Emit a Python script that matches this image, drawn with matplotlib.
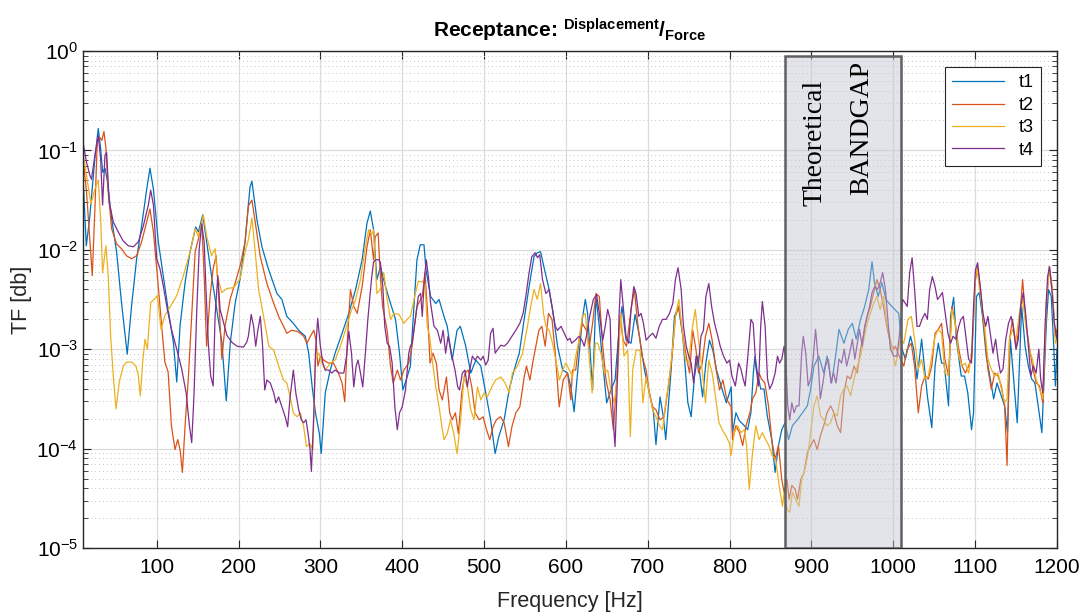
import numpy as np
import matplotlib
matplotlib.use('Agg')
import matplotlib.pyplot as plt
from matplotlib.patches import Rectangle
from matplotlib.ticker import LogLocator, NullFormatter

# values: frequency [Hz] and log10(TF)
t1_f = [10, 14, 18, 24.5, 28.6, 31.5, 34, 36.8, 39.6, 45, 51, 57, 64, 69.4, 75.5, 81.6, 87.8, 91.8, 96, 102,
        108, 114, 120.4, 124.5, 128.6, 134.7, 140.8, 147.7, 151, 156.3, 161, 167, 173.4, 179.6, 185, 190, 196, 202, 208, 214,
        216.4, 222.5, 228.6, 236.8, 247, 253, 259, 267, 273.5, 281.6, 285.7, 290, 294, 298.8, 301, 306, 312, 318, 326.5, 334.7,
        343, 351, 357, 361, 365, 369, 373.4, 379.6, 385.7, 391.8, 396.7, 400.8, 406, 410, 412, 418, 422, 426.6, 429, 434.7,
        441, 445, 451, 455, 461, 467, 471, 477.6, 483.7, 490, 496, 502, 508, 513.5, 518, 524.5, 530.6, 536.7, 543, 549,
        555, 561, 565, 569, 574.7, 578.7, 583.6, 589.8, 596, 602, 606, 610, 616, 620, 623.7, 626.5, 632.6, 636.7, 640.8, 645,
        649.8, 655, 660, 665, 668.5, 673.4, 679.6, 684.5, 689.8, 696, 702, 707, 710, 715, 719, 722, 728.5, 732.6, 737.5, 742.8,
        749, 753, 757, 761, 767, 771, 775.4, 779.5, 784, 790, 796, 802, 803.6, 807.7, 812, 818, 822, 826, 829, 831,
        834, 838, 842, 846, 851.5, 855.6, 859.7, 863.7, 867.8, 872, 876.7, 882.8, 889, 895, 899, 903, 909, 915, 919, 924.6,
        929.5, 933.6, 939.7, 945, 950, 954.7, 960, 965, 970, 974, 977, 981.5, 986, 991, 996, 1000.6, 1006.6, 1010.7, 1014.8, 1021,
        1025, 1029, 1034.6, 1038.7, 1041.6, 1047, 1051, 1055, 1059, 1062, 1067.5, 1070, 1073.7, 1077, 1083, 1087, 1091, 1095.6, 1098, 1101.6,
        1105, 1109, 1113.6, 1118.5, 1122.6, 1126.7, 1132, 1136, 1139.5, 1143, 1147, 1151.4, 1156.8, 1161, 1165, 1169, 1173, 1177, 1181.5, 1187,
        1189.7, 1193, 1196, 1198, 1200]
t1_e = [-1.27, -1.96, -1.69, -1.08, -0.78, -0.98, -1.22, -1.18, -1.30, -1.69, -2.02, -2.53, -3.05, -2.56, -2.09, -1.76, -1.39, -1.18, -1.39, -1.92,
        -2.26, -2.60, -2.93, -3.33, -2.76, -2.33, -2.02, -1.77, -1.82, -1.65, -1.92, -2.26, -2.60, -2.93, -3.52, -2.93, -2.53, -2.29, -1.92, -1.37,
        -1.31, -1.70, -1.97, -2.20, -2.44, -2.50, -2.67, -2.74, -2.81, -2.87, -3.04, -3.38, -3.64, -3.85, -4.05, -3.44, -3.21, -3.04, -2.84, -2.64,
        -2.40, -2.10, -1.73, -1.61, -1.80, -2.30, -2.17, -2.37, -2.54, -2.70, -3.04, -3.41, -3.28, -3.17, -2.87, -2.10, -1.95, -1.95, -2.20, -2.47,
        -2.54, -2.50, -2.67, -2.77, -3.11, -2.81, -2.77, -2.97, -3.24, -3.11, -3.17, -3.44, -3.71, -4.05, -3.88, -3.71, -3.41, -3.21, -3.04, -2.70,
        -2.37, -2.07, -2.03, -2.02, -2.23, -2.37, -2.60, -2.97, -3.21, -3.24, -3.38, -3.63, -3.07, -2.70, -2.50, -2.64, -3.41, -2.47, -2.77, -3.14,
        -3.54, -3.41, -3.31, -2.80, -2.57, -2.91, -2.94, -2.65, -2.87, -3.21, -3.44, -3.64, -3.96, -3.48, -3.68, -3.91, -3.21, -2.67, -2.57, -2.87,
        -3.54, -3.68, -3.28, -3.07, -3.48, -3.14, -2.91, -3.01, -3.21, -3.38, -3.54, -3.38, -3.84, -3.64, -3.72, -3.77, -3.81, -3.64, -3.24, -3.07,
        -3.24, -3.40, -3.40, -3.67, -3.91, -4.24, -3.97, -3.81, -3.74, -3.91, -3.77, -3.71, -3.64, -3.57, -3.40, -3.17, -3.07, -3.24, -3.07, -3.34,
        -3.07, -2.80, -2.94, -2.80, -2.74, -2.90, -2.70, -2.57, -2.40, -2.12, -2.33, -2.47, -2.33, -2.50, -2.55, -2.59, -2.64, -3.00, -3.10, -2.87,
        -3.00, -3.30, -2.90, -3.24, -3.47, -3.79, -3.17, -2.94, -3.14, -3.14, -3.57, -2.67, -2.48, -2.90, -3.27, -3.27, -3.44, -3.81, -3.64, -2.47,
        -2.43, -2.67, -3.07, -3.30, -3.50, -3.34, -3.47, -3.57, -3.84, -2.90, -3.30, -3.74, -2.57, -2.97, -3.17, -3.30, -3.34, -3.57, -3.84, -2.74,
        -2.40, -2.47, -2.97, -3.37, -3.00]

t2_f = [10, 14.3, 18.4, 21.3, 24.5, 27.4, 30.6, 33, 35.6, 38, 40.8, 45, 51, 57, 63, 69.4, 75.5, 81.6, 87.8, 91.8,
        96, 100.8, 106, 110, 114, 118, 122.4, 125.7, 128.6, 131.4, 134.7, 138.8, 142.8, 147, 151, 155, 158, 161, 165.3, 169,
        172.6, 175.5, 179.6, 183.6, 190, 196, 202, 208, 212, 216.4, 220.5, 226.6, 234.7, 243, 249, 255, 259, 265, 271.4, 275.5,
        279.6, 283.7, 287.8, 292, 294.7, 297, 300, 304, 310, 316, 322, 326.5, 329.8, 332.6, 336.7, 340.8, 345, 351, 357, 361,
        365, 367, 370.6, 373, 376, 381.6, 385.7, 389, 394, 398, 402, 408, 412, 418, 424.5, 427.8, 431, 434, 437.6, 441.7,
        445, 449, 454, 458, 461, 465, 468.6, 472.7, 476.7, 480.8, 485, 489, 494, 498.8, 503, 507, 511, 515, 520, 524.5,
        529.8, 534, 538.8, 543.7, 549, 551.8, 556, 560, 564, 567, 570.6, 574.7, 578.7, 583, 587, 591.8, 596.7, 602, 606, 608,
        612, 616, 620, 625, 628.6, 632.6, 636.7, 640.8, 645, 649, 654, 658, 662, 666, 670, 674, 679.6, 683.6, 687.7, 693,
        698, 702, 706, 710, 715, 720, 725.7, 729.7, 733.8, 738, 742, 747, 751, 755, 759, 762, 766.5, 770.5, 774.6, 778.7,
        783.6, 787.7, 791.8, 796.7, 802, 803.6, 807.7, 812, 816, 820, 824.8, 828, 832, 836, 839, 843, 847.5, 851.5, 855.6, 859.7,
        863.7, 866.6, 870, 872.7, 876, 880, 883, 887, 891, 895, 899, 903, 907, 911, 915, 919, 923.4, 927.5, 931.5, 935.6,
        939.7, 943.7, 947.8, 952, 956, 960, 964, 968, 972, 976, 980, 984, 988, 992, 996.5, 1000.6, 1002.5, 1008.6, 1012.8, 1016.9,
        1022, 1026, 1030.5, 1034.6, 1038.7, 1042.8, 1047, 1051, 1055, 1059, 1063, 1067.5, 1071.6, 1075.7, 1080, 1084, 1088, 1092, 1096, 1100.4,
        1103, 1106.6, 1111.5, 1115.6, 1119.7, 1124, 1128, 1132, 1136, 1139, 1142, 1145.7, 1150, 1154, 1158, 1162, 1166, 1170, 1174.5, 1178.6,
        1182.7, 1187, 1190.5, 1194, 1198, 1200]
t2_e = [-1.08, -1.42, -1.92, -2.26, -1.59, -0.92, -0.87, -0.90, -0.81, -0.98, -1.42, -1.79, -1.94, -1.99, -2.06, -2.09, -2.06, -1.92, -1.72, -1.59,
        -1.82, -2.26, -2.76, -3.13, -3.23, -3.77, -4.01, -3.91, -4.01, -4.24, -3.77, -3.27, -2.66, -2.02, -1.89, -1.72, -2.26, -2.97, -2.46, -2.19,
        -2.06, -2.43, -3.10, -2.76, -2.49, -2.33, -2.16, -1.92, -1.56, -1.50, -1.73, -2.07, -2.34, -2.54, -2.67, -2.77, -2.84, -2.81, -2.82, -2.84,
        -2.87, -2.94, -2.87, -2.81, -2.91, -3.17, -3.07, -3.11, -3.14, -3.14, -3.24, -3.34, -3.53, -2.97, -2.40, -2.57, -2.64, -2.37, -1.97, -1.80,
        -2.10, -1.87, -1.83, -2.23, -2.57, -2.81, -3.17, -3.34, -3.21, -3.31, -3.21, -3.14, -2.97, -2.57, -2.47, -2.23, -2.64, -3.14, -3.04, -3.14,
        -3.41, -3.51, -3.28, -3.64, -3.71, -3.64, -3.85, -3.44, -3.24, -3.21, -3.38, -3.64, -3.71, -3.68, -3.81, -3.91, -3.78, -3.71, -3.68, -3.74,
        -3.98, -3.78, -3.64, -3.58, -3.28, -3.17, -3.31, -3.11, -2.94, -2.81, -2.77, -2.97, -2.64, -2.70, -3.04, -3.58, -3.31, -3.24, -3.51, -3.21,
        -3.21, -2.91, -2.74, -2.81, -2.97, -2.74, -2.44, -2.47, -2.97, -3.31, -3.51, -3.81, -3.31, -2.67, -2.91, -2.97, -2.60, -2.40, -2.74, -3.07,
        -3.21, -3.44, -3.58, -3.61, -3.71, -3.68, -3.34, -3.07, -2.67, -2.57, -2.81, -3.07, -3.24, -2.81, -3.01, -3.24, -3.14, -2.87, -2.74, -2.91,
        -3.21, -3.41, -3.31, -3.51, -3.58, -3.91, -3.77, -3.84, -3.97, -3.77, -3.64, -3.50, -3.44, -3.24, -3.30, -3.34, -3.57, -3.91, -4.11, -3.97,
        -4.31, -4.44, -4.31, -4.51, -4.37, -4.41, -4.51, -4.31, -4.24, -4.04, -3.97, -3.91, -4.01, -3.87, -3.77, -3.64, -3.57, -3.64, -3.77, -3.84,
        -3.44, -3.27, -3.30, -3.17, -3.24, -3.00, -2.84, -2.67, -2.57, -2.43, -2.30, -2.40, -2.57, -2.77, -2.94, -3.00, -2.97, -3.10, -3.17, -3.00,
        -2.94, -3.17, -3.64, -3.37, -3.27, -3.30, -3.17, -2.84, -2.80, -2.74, -3.10, -3.27, -2.57, -2.74, -3.00, -3.17, -3.24, -3.17, -3.07, -2.30,
        -2.17, -2.40, -2.84, -3.20, -3.40, -3.24, -3.27, -3.37, -3.57, -4.17, -2.90, -2.70, -3.00, -2.74, -2.30, -2.74, -2.97, -3.17, -3.34, -3.37,
        -3.54, -2.57, -2.17, -2.37, -2.87, -2.80]

t3_f = [10, 14.3, 19.6, 24.5, 28.6, 31.5, 33.9, 38, 40.8, 43.7, 47, 50.3, 54.3, 59.2, 63.3, 69.4, 74.7, 77.6, 80, 82.9,
        85.7, 88.6, 92.7, 98, 100.8, 105.3, 110, 116, 124.5, 132.6, 140.8, 147, 151, 157, 161, 167, 171.4, 174, 179.6, 185.7,
        194, 202, 208, 212, 216.4, 220.5, 224.5, 230.6, 237, 243, 249, 255, 259, 263, 267, 271.4, 275.5, 279.6, 283, 287,
        291, 294, 298, 302, 306, 312, 318, 324.5, 330.6, 336.7, 343, 349, 355, 359, 362.4, 365, 369, 373, 377.5, 381.6,
        385.7, 389.8, 396, 402, 406, 410, 416, 419.6, 423.7, 427.8, 430.6, 433.5, 437.6, 441, 445, 449, 451, 455, 459, 463,
        467, 471.4, 475.5, 479.6, 483.7, 487.8, 492, 496, 500, 504, 509.4, 514, 520.4, 525.7, 530.6, 534.7, 540.8, 547, 553, 557,
        561, 565, 569, 572.6, 575.5, 579.6, 583.6, 587.7, 592, 596, 600, 606, 608, 612, 616, 620, 623.7, 627.7, 632, 636,
        638.8, 642.8, 647, 651, 655, 659, 663, 667, 671, 675.5, 678.7, 681.6, 685.7, 690.6, 694, 698, 702, 706, 710, 715,
        718, 722, 726.5, 730.6, 733.8, 738, 742, 746, 750, 754, 758, 762, 766.5, 770.5, 774.6, 778.7, 782.8, 787, 791, 796,
        800, 801.6, 805.7, 809.7, 813.8, 818, 820.7, 824, 828, 832, 836, 840, 844, 848, 852, 856.4, 860.5, 864.6, 866.6, 870,
        873.5, 876.7, 880.8, 884.8, 888, 892, 896, 900, 903, 907, 911, 915, 919, 923.4, 927.5, 931.5, 935.6, 939.7, 943.7, 947.8,
        952, 956, 960, 964, 968, 972, 976, 980, 984, 988, 992, 996.5, 1000.6, 1002.5, 1008.6, 1012.8, 1018, 1022, 1026, 1030.5,
        1034.6, 1038.7, 1042.8, 1047, 1051, 1055, 1059, 1063, 1067.5, 1071.6, 1075.7, 1080, 1084, 1088, 1092, 1096, 1100.4, 1102.5, 1106.6, 1111.5,
        1115.6, 1119.7, 1124, 1128, 1132, 1136, 1139, 1142, 1145.7, 1150, 1154, 1158, 1162, 1166, 1170, 1174.5, 1178.6, 1182.7, 1187, 1190.5,
        1194, 1198, 1200]
t3_e = [-1.02, -1.25, -1.54, -1.39, -1.30, -1.69, -2.23, -1.96, -2.26, -2.86, -3.27, -3.60, -3.33, -3.17, -3.13, -3.13, -3.17, -3.27, -3.47, -3.13,
        -2.90, -3.00, -2.53, -2.49, -2.46, -2.80, -2.66, -2.58, -2.46, -2.26, -2.02, -1.79, -1.87, -1.65, -1.86, -2.06, -1.99, -2.26, -2.43, -2.39,
        -2.38, -2.29, -2.02, -1.90, -1.68, -2.03, -2.40, -2.67, -2.97, -3.01, -3.17, -3.31, -3.34, -3.48, -3.64, -3.68, -3.64, -3.78, -3.98, -3.95,
        -4.01, -3.11, -3.04, -3.14, -3.21, -3.14, -3.11, -2.97, -2.81, -2.64, -2.50, -2.30, -1.97, -1.80, -1.85, -1.80, -2.44, -2.40, -2.23, -2.50,
        -2.70, -2.64, -2.65, -2.74, -2.70, -2.67, -2.44, -2.32, -2.32, -2.34, -2.77, -2.87, -3.17, -3.38, -3.58, -3.81, -3.91, -3.85, -3.71, -3.85,
        -4.05, -3.71, -3.28, -3.38, -3.61, -3.71, -3.38, -3.51, -3.44, -3.48, -3.38, -3.31, -3.28, -3.34, -3.44, -3.24, -3.17, -3.04, -2.77, -2.57,
        -2.40, -2.50, -2.34, -2.64, -2.77, -2.81, -2.94, -3.11, -3.31, -3.21, -3.14, -3.24, -3.28, -3.07, -2.91, -2.67, -2.64, -3.01, -3.44, -2.94,
        -2.94, -3.04, -3.24, -3.21, -3.41, -3.54, -3.28, -2.64, -3.07, -3.01, -3.88, -3.21, -3.01, -3.01, -3.54, -3.28, -3.44, -3.61, -3.68, -3.78,
        -3.81, -3.54, -3.28, -2.97, -2.67, -2.50, -2.81, -3.11, -3.14, -2.81, -2.60, -2.91, -3.21, -3.54, -3.11, -3.24, -3.48, -3.74, -3.81, -3.88,
        -3.95, -4.07, -3.84, -3.77, -3.84, -3.81, -3.97, -4.41, -4.04, -3.77, -3.91, -3.84, -3.91, -3.97, -4.07, -4.11, -4.37, -4.58, -4.44, -4.61,
        -4.64, -4.44, -4.51, -4.58, -4.31, -4.21, -4.04, -3.77, -3.57, -3.47, -3.67, -3.71, -3.77, -3.74, -3.64, -3.67, -3.47, -3.40, -3.37, -3.47,
        -3.30, -3.17, -3.07, -2.90, -2.74, -2.64, -2.54, -2.47, -2.60, -2.47, -2.74, -2.90, -3.10, -3.17, -2.90, -2.94, -2.70, -2.67, -2.90, -3.20,
        -3.10, -3.30, -3.27, -3.07, -2.87, -2.80, -2.84, -3.24, -3.27, -2.60, -2.74, -3.07, -3.17, -3.14, -3.24, -3.00, -2.27, -2.20, -2.47, -2.77,
        -3.10, -3.20, -3.27, -3.24, -3.40, -3.54, -3.50, -2.90, -2.80, -2.90, -2.64, -2.50, -2.77, -3.00, -3.10, -3.30, -3.40, -3.50, -2.50, -2.20,
        -2.40, -2.94, -2.90]

t4_f = [10, 14.3, 18.4, 20.4, 24.5, 28.6, 31.5, 33.9, 36.8, 38.8, 42, 47, 53, 59, 65.3, 71.4, 77.6, 83.7, 89.8, 92.7,
        96, 100, 104, 108, 113, 118, 124.5, 130.6, 136, 140, 142.8, 145.7, 149, 152, 155, 158, 160.4, 163, 166, 169,
        171.4, 174.7, 177.5, 181.6, 185.7, 191.8, 198, 206, 210, 212, 215.5, 218.4, 221, 223.6, 226.6, 229.4, 232, 234.7, 238.8, 243,
        245.7, 249, 253, 257, 260, 263, 267, 270, 273.5, 276.7, 279.6, 282.5, 285, 287.4, 289, 292, 294, 296.7, 300, 303,
        306, 310, 314, 318, 323, 328.6, 332, 334.7, 338, 340.8, 343.7, 346, 349, 351.8, 355, 358, 362.4, 365, 368, 371.4,
        373.4, 376.3, 378.7, 381.6, 384.5, 387.7, 391, 394, 396.7, 400, 404, 408, 410, 412, 416, 419.6, 422.5, 424.5, 427, 429.4,
        432, 434.7, 438.8, 443, 447, 450, 453, 456, 460, 464.5, 467.8, 470, 473.5, 476.7, 479.6, 482.5, 485.7, 489, 492, 496,
        498.8, 502, 505, 508, 511, 513.5, 516, 520.4, 524.5, 528.6, 534, 538.8, 543.7, 547.7, 551, 555, 558.3, 562.4, 565.3, 568,
        571.4, 575.5, 579.6, 583.6, 587, 589.8, 594, 598, 602, 605, 607, 611.4, 616, 619.6, 622.4, 625, 629, 633.5, 637.5, 640.8,
        645, 648, 651, 654, 656, 658, 660, 663, 665, 667, 670, 673.4, 676.7, 679.6, 683, 685.7, 689, 691.8, 694.7, 698,
        702, 706, 710, 714, 718, 722.4, 726.5, 730.6, 733.8, 737, 740.8, 743.6, 747, 750, 753, 756, 759, 762, 765, 768,
        771, 774.6, 778, 781.6, 785.6, 788.5, 792.6, 796.7, 800, 802.8, 807, 811, 813.8, 816.6, 819, 823, 826, 828.8, 832, 835.3,
        838, 840, 843.4, 846.3, 849, 852.4, 855.6, 858.5, 861, 863.7, 866.6, 868.6, 871, 873.5, 876, 878.8, 881.6, 884.8, 888, 890,
        893, 896, 899, 902, 905, 907.6, 910.8, 914, 917, 920.6, 923.8, 927, 930, 933.6, 936.8, 940, 943, 946.6, 950, 953,
        956, 958.7, 962, 965, 968, 971, 974, 977.4, 980.7, 984, 987, 990.4, 993.7, 996.5, 1000.6, 1004.5, 1008.6, 1011.5, 1014.8, 1017,
        1020, 1023, 1026, 1029, 1032, 1035, 1038.7, 1041.6, 1044.4, 1047.7, 1051, 1054, 1056.8, 1060, 1063.4, 1066.7, 1070, 1073, 1076.5, 1080,
        1082.7, 1085.6, 1089, 1092, 1095.5, 1098, 1100.4, 1103, 1106.6, 1109.5, 1112.8, 1115.6, 1118.5, 1121.8, 1125, 1128, 1130.9, 1134, 1137.4, 1140.7,
        1144, 1146.5, 1150, 1152.7, 1155.5, 1158.8, 1162, 1165, 1168, 1171, 1174.5, 1177.8, 1180, 1182.7, 1185.6, 1188.5, 1191, 1194, 1196.7, 1200]
t4_e = [-0.92, -1.12, -1.25, -1.29, -1.05, -0.85, -1.08, -1.55, -1.05, -1.02, -1.52, -1.72, -1.82, -1.91, -1.96, -1.97, -1.92, -1.76, -1.55, -1.40,
        -1.55, -2.09, -2.19, -2.36, -2.60, -2.80, -3.00, -3.20, -3.44, -3.77, -3.94, -3.44, -2.60, -1.99, -1.74, -1.92, -2.43, -2.93, -3.27, -3.37,
        -2.66, -2.26, -2.60, -2.73, -2.86, -2.93, -2.97, -2.98, -2.93, -2.87, -2.65, -2.77, -2.97, -2.81, -2.67, -2.97, -3.41, -3.31, -3.34, -3.44,
        -3.54, -3.48, -3.58, -3.68, -3.78, -3.48, -3.21, -3.44, -3.61, -3.71, -3.74, -3.71, -3.85, -4.01, -4.23, -3.64, -3.04, -2.69, -2.97, -3.14,
        -3.21, -3.21, -3.24, -3.21, -3.24, -3.24, -3.07, -2.82, -3.04, -3.38, -3.17, -3.11, -3.24, -3.38, -3.04, -2.70, -2.30, -2.12, -2.10, -2.10,
        -2.13, -2.37, -2.77, -2.94, -2.97, -3.14, -3.58, -3.81, -3.64, -3.58, -3.41, -3.04, -2.97, -2.94, -2.70, -2.47, -2.44, -2.67, -2.30, -2.10,
        -2.27, -2.54, -2.77, -2.81, -2.94, -2.81, -3.04, -2.87, -3.04, -3.21, -3.38, -3.41, -3.24, -3.21, -3.38, -3.21, -3.07, -3.11, -3.07, -3.11,
        -3.07, -3.16, -3.11, -2.84, -2.79, -3.04, -3.01, -2.96, -2.97, -2.94, -2.87, -2.81, -2.74, -2.64, -2.47, -2.23, -2.07, -2.03, -2.08, -2.05,
        -2.30, -2.44, -2.40, -2.60, -2.77, -2.81, -2.77, -2.84, -2.91, -2.89, -2.94, -2.91, -2.87, -2.91, -2.97, -2.87, -2.67, -2.50, -2.45, -2.64,
        -2.91, -2.77, -2.60, -2.70, -3.31, -3.74, -3.98, -3.28, -2.64, -2.30, -2.57, -2.87, -2.94, -2.60, -2.37, -2.44, -2.67, -2.64, -2.74, -2.91,
        -2.87, -2.84, -2.89, -2.77, -2.70, -2.70, -2.64, -2.54, -2.30, -2.18, -2.40, -2.77, -2.97, -3.07, -3.14, -3.34, -3.07, -3.14, -2.87, -2.81,
        -2.47, -2.34, -2.57, -2.74, -2.87, -2.97, -3.07, -3.14, -3.11, -3.27, -3.37, -3.14, -3.20, -3.30, -3.37, -3.00, -2.70, -2.74, -3.17, -3.37,
        -2.77, -2.52, -2.77, -3.30, -3.40, -3.34, -3.24, -3.07, -3.14, -3.10, -2.97, -3.10, -3.57, -3.71, -3.54, -3.64, -3.57, -3.57, -3.04, -2.87,
        -3.04, -3.37, -3.30, -3.10, -2.80, -3.04, -3.50, -3.34, -3.17, -3.10, -3.34, -3.24, -3.34, -3.10, -3.14, -3.00, -3.17, -3.04, -2.90, -3.10,
        -2.94, -2.80, -2.97, -2.77, -2.67, -2.57, -2.43, -2.37, -2.40, -2.33, -2.23, -2.40, -2.74, -3.00, -3.07, -3.07, -2.77, -2.50, -2.54, -2.57,
        -2.23, -2.08, -2.40, -2.77, -2.77, -2.70, -2.64, -2.70, -2.40, -2.27, -2.37, -2.50, -2.47, -2.43, -2.64, -2.84, -2.94, -2.87, -2.90, -2.77,
        -2.70, -2.67, -2.90, -3.10, -3.14, -2.57, -2.20, -2.13, -2.40, -2.64, -2.77, -2.67, -2.84, -3.04, -2.90, -3.10, -3.24, -3.20, -2.90, -2.74,
        -2.67, -2.77, -3.00, -2.90, -2.57, -2.43, -2.67, -2.97, -3.27, -3.17, -3.24, -3.00, -3.30, -3.44, -2.74, -2.27, -2.17, -2.43, -2.74, -2.90]

labels = ['t1', 't2', 't3', 't4']
colors = ['#0072BD', '#D95319', '#EDB120', '#7E2F8E']
bandgap = (868, 1010)
x_ticks = [100, 200, 300, 400, 500, 600, 700, 800, 900, 1000, 1100, 1200]

plt.rcParams['font.family'] = ['Liberation Sans', 'DejaVu Sans']
plt.rcParams['mathtext.fontset'] = 'custom'
plt.rcParams['mathtext.rm'] = 'Liberation Sans'
plt.rcParams['mathtext.bf'] = 'Liberation Sans:bold'

fig = plt.figure(figsize=(10.81, 6.12), dpi=100)
ax = fig.add_axes([0.0768, 0.1046, 0.9010, 0.8121])

series = [(t1_f, t1_e), (t2_f, t2_e), (t3_f, t3_e), (t4_f, t4_e)]
for (f, e), lab, c in zip(series, labels, colors):
    ax.plot(f, 10.0 ** np.array(e), color=c, lw=0.9, label=lab)

ax.set_yscale('log')
ax.set_xlim(10, 1200)
ax.set_ylim(1e-5, 1)
ax.set_xticks(x_ticks)
ax.yaxis.set_minor_locator(LogLocator(base=10, subs=np.arange(2, 10), numticks=20))
ax.yaxis.set_minor_formatter(NullFormatter())

ax.grid(True, which='major', color='#dcdcdc', lw=0.9)
ax.grid(True, which='minor', axis='y', color='#c8c8c8', lw=0.7, ls=(0, (1, 3)))
ax.set_axisbelow(True)
ax.tick_params(which='both', direction='in', top=True, right=True, labelsize=15, color='#262626')
ax.tick_params(which='major', length=6)
ax.tick_params(which='minor', length=3.5)
ax.tick_params(axis='x', pad=7)
for s in ax.spines.values():
    s.set_color('#262626')
    s.set_linewidth(1.0)

# bandgap box drawn over the curves
rect = Rectangle((bandgap[0], 1e-5), bandgap[1] - bandgap[0], 0.89 - 1e-5,
                 facecolor=(0.75, 0.77, 0.81), alpha=0.45, edgecolor='none', zorder=5)
ax.add_patch(rect)
ax.add_patch(Rectangle((bandgap[0], 1e-5), bandgap[1] - bandgap[0], 0.89 - 1e-5,
                       fill=False, edgecolor='#606060', lw=1.8, zorder=6))
ax.text(904, 0.12, 'Theoretical', rotation=90, ha='center', va='center',
        family='Liberation Serif', fontsize=20, zorder=7)
ax.text(961.5, 0.168, 'BANDGAP', rotation=90, ha='center', va='center',
        family='Liberation Serif', fontsize=20, zorder=7)

ax.set_xlabel('Frequency [Hz]', fontsize=15.5, color='#262626', labelpad=10)
ax.set_ylabel('TF [db]', fontsize=15.5, color='#262626')
ax.yaxis.set_label_coords(-0.052, 0.5)
ax.set_title(r'Receptance: $\mathbf{^{Displacement}/_{Force}}$', fontsize=15,
             fontweight='bold', pad=10)

leg = ax.legend(loc='upper right', fontsize=13, frameon=True, fancybox=False, framealpha=1,
                edgecolor='#262626', handlelength=2.9, labelspacing=0.3, borderaxespad=0.9)
leg.get_frame().set_linewidth(0.8)
leg.set_zorder(8)

fig.savefig('out.png', dpi=100)
